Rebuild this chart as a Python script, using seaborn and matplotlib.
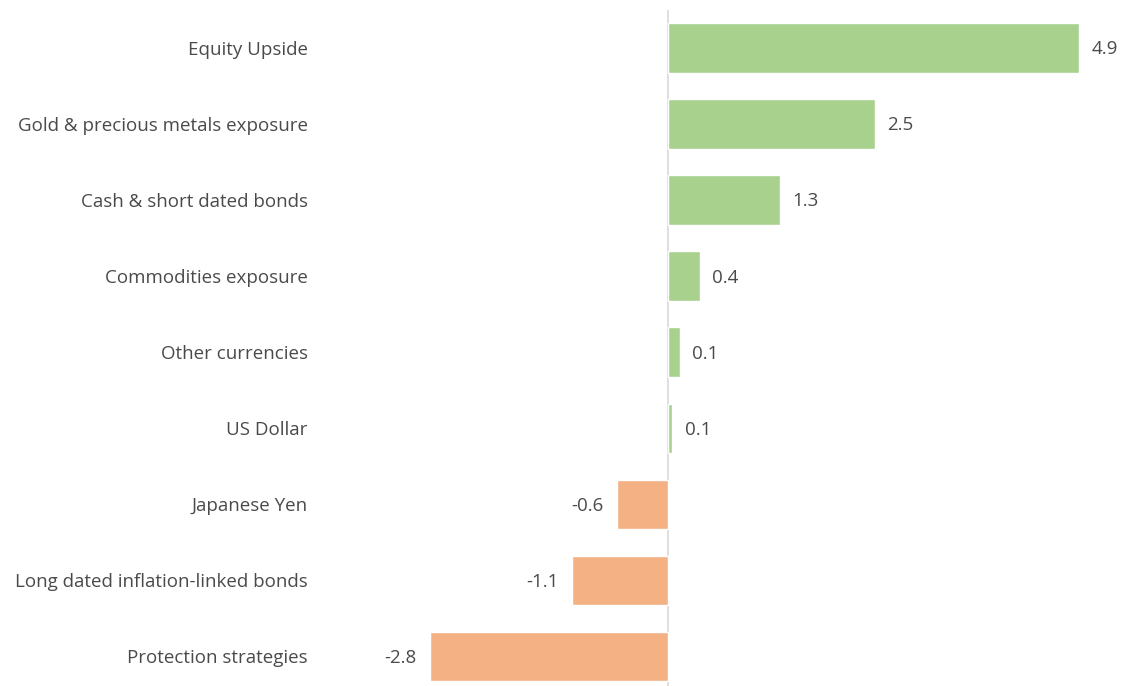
import matplotlib
matplotlib.use("Agg")
import matplotlib.pyplot as plt
import seaborn as sns
import pandas as pd

categories = [
    "Equity Upside",
    "Gold & precious metals exposure",
    "Cash & short dated bonds",
    "Commodities exposure",
    "Other currencies",
    "US Dollar",
    "Japanese Yen",
    "Long dated inflation-linked bonds",
    "Protection strategies",
]
values = [4.9, 2.46, 1.33, 0.38, 0.14, 0.05, -0.6, -1.14, -2.83]
value_labels = ["4.9", "2.5", "1.3", "0.4", "0.1", "0.1", "-0.6", "-1.1", "-2.8"]

sns.set_theme(style="white")
plt.rcParams["font.family"] = ["Open Sans", "DejaVu Sans"]

df = pd.DataFrame({"cat": categories, "val": values})
df["sign"] = ["pos" if v >= 0 else "neg" for v in values]
palette = {"pos": "#a9d18e", "neg": "#f4b183"}

fig = plt.figure(figsize=(11.26, 6.86), dpi=100)
ax = fig.add_axes([0.30, 0.0, 0.69, 676 / 686])

sns.barplot(data=df, y="cat", x="val", hue="sign", palette=palette,
            dodge=False, legend=False, width=0.65, ax=ax, orient="h",
            saturation=1)

ax.set_xlim(-3.93, 5.32)
ax.set_ylim(8.39, -0.5)
ax.axvline(0, color="#d9d9d9", lw=1.2, zorder=0)

for i, (v, lab) in enumerate(zip(values, value_labels)):
    if v >= 0:
        ax.annotate(lab, (v, i), xytext=(9, -1), textcoords="offset points",
                    ha="left", va="center", fontsize=13.5, color="#4a4a4a")
    else:
        ax.annotate(lab, (v, i), xytext=(-10, -1), textcoords="offset points",
                    ha="right", va="center", fontsize=13.5, color="#4a4a4a")

ax.set_xlabel("")
ax.set_ylabel("")
ax.set_xticks([])
ax.tick_params(axis="y", length=0, pad=21.6, labelsize=13.5, labelcolor="#4a4a4a")
for s in ax.spines.values():
    s.set_visible(False)

fig.savefig("out.png", dpi=100)
